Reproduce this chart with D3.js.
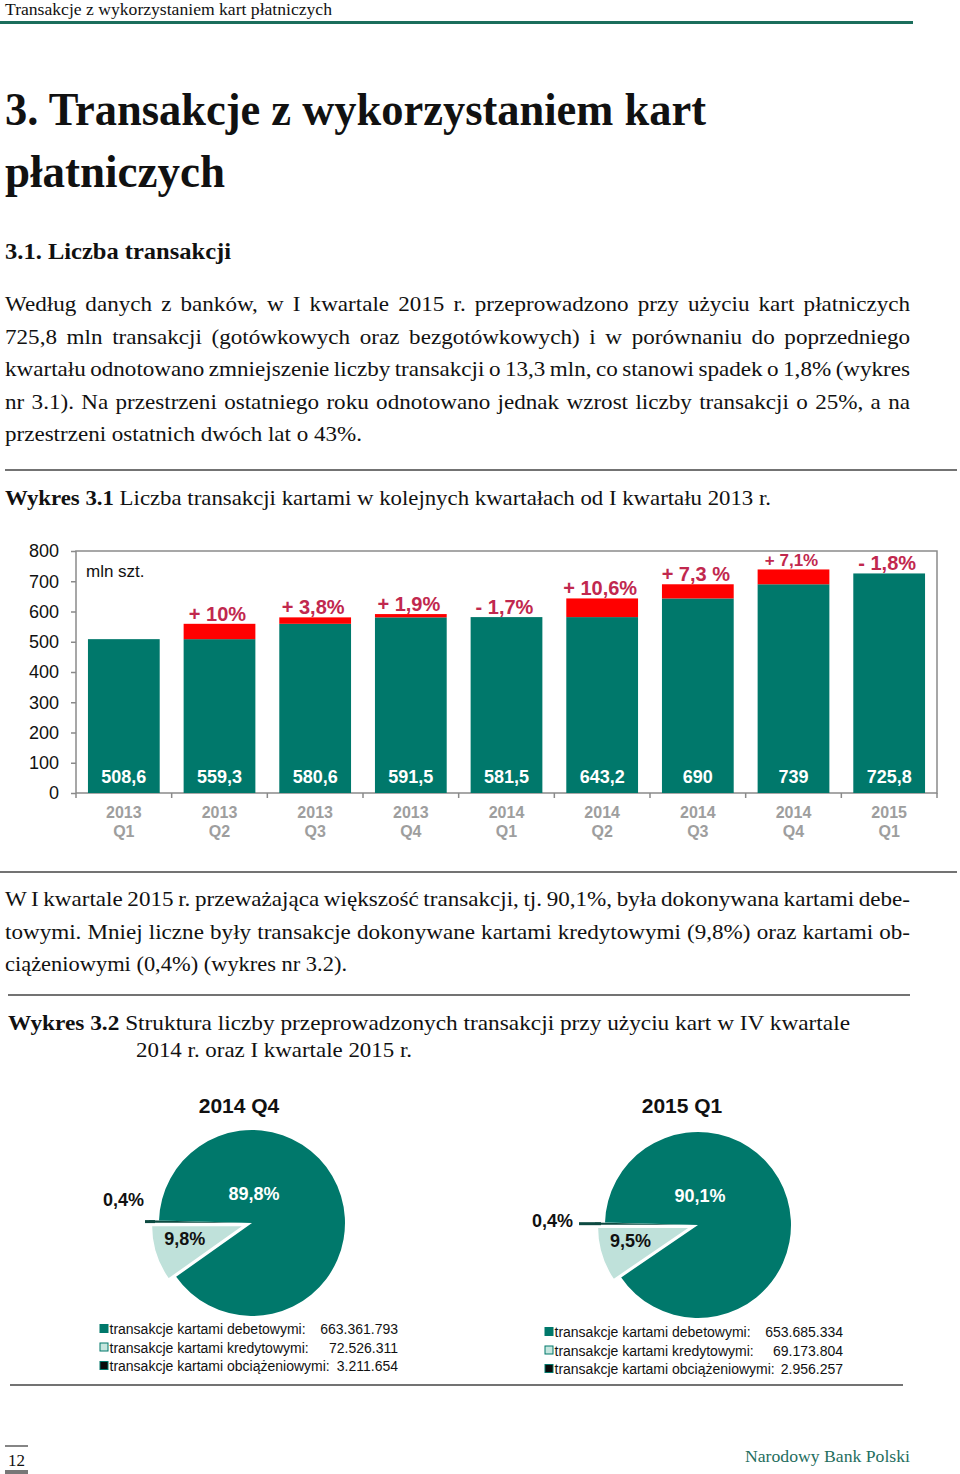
<!DOCTYPE html>
<html><head><meta charset="utf-8">
<script src="https://cdn.jsdelivr.net/npm/d3@7"></script>
<style>body{margin:0;background:#fff}svg{display:block}</style>
</head><body><svg id="page" width="960" height="1474"></svg>
<script>
// ---------------- DATA ----------------
const quarterYears = ["2013","2013","2013","2013","2014","2014","2014","2014","2015"];
const quarterNames = ["Q1","Q2","Q3","Q4","Q1","Q2","Q3","Q4","Q1"];
const transactions = [508.6, 559.3, 580.6, 591.5, 581.5, 643.2, 690, 739, 725.8];
const changeLabels = ["", "+ 10%", "+ 3,8%", "+ 1,9%", "- 1,7%", "+ 10,6%", "+ 7,3 %", "+ 7,1%", "- 1,8%"];
const yTicks = [0, 100, 200, 300, 400, 500, 600, 700, 800];

const pieCategories = ["transakcje kartami debetowymi:", "transakcje kartami kredytowymi:", "transakcje kartami obciążeniowymi:"];
const pie2014Q4 = [663361793, 72526311, 3211654];
const pie2015Q1 = [653685334, 69173804, 2956257];
const pie2014Q4Pct = ["89,8%", "9,8%", "0,4%"];
const pie2015Q1Pct = ["90,1%", "9,5%", "0,4%"];

// ---------------- SETUP ----------------
const svg = d3.select("#page");
const SERIF = "'Liberation Serif', 'Times New Roman', serif";
const SANS = "'Liberation Sans', Arial, sans-serif";
const TEAL = "#00786b", RED = "#ff0000", PCT = "#c1284e";
const plFmt = d3.formatLocale({decimal: ",", thousands: ".", grouping: [3], currency: ["", ""]});
const numFmt = plFmt.format(",d");
const decFmt = v => (Math.round(v * 10) / 10).toString().replace(".", ",");

function textLine(parts, x, y, size, opts = {}) {
  const t = svg.append("text")
    .attr("font-family", opts.family || SERIF).attr("font-size", size)
    .attr("fill", opts.fill || "#111");
  parts.forEach(p => {
    const s = typeof p === "string" ? {t: p} : p;
    t.append("tspan").text(s.t).attr("font-weight", s.b ? "bold" : null);
  });
  if (opts.justify) {
    const hs = 1.1;
    t.attr("transform", `translate(${x},${y}) scale(${hs},1)`);
    const w = t.node().getComputedTextLength();
    const full = parts.map(p => typeof p === "string" ? p : p.t).join("");
    const spaces = (full.match(/ /g) || []).length;
    t.attr("word-spacing", (opts.width / hs - w) / spaces);
  } else {
    t.attr("x", x).attr("y", y);
    if (opts.width) t.attr("textLength", opts.width).attr("lengthAdjust", "spacingAndGlyphs");
  }
  return t;
}
function hline(x1, x2, y, color = "#444", w = 1.6) {
  svg.append("line").attr("x1", x1).attr("x2", x2).attr("y1", y).attr("y2", y)
    .attr("stroke", color).attr("stroke-width", w);
}

// ---------------- PAGE TEXT ----------------
textLine(["Transakcje z wykorzystaniem kart płatniczych"], 5, 15, 16, {width: 327});
hline(0, 913, 22.5, "#1b6e5c", 3);
textLine([{t: "3. Transakcje z wykorzystaniem kart", b: 1}], 5, 125, 46, {width: 701});
textLine([{t: "płatniczych", b: 1}], 5, 187, 46, {width: 220});
textLine([{t: "3.1. Liczba transakcji", b: 1}], 5, 259, 24, {width: 226});

const para1 = [
  "Według danych z banków, w I kwartale 2015 r. przeprowadzono przy użyciu kart płatniczych",
  "725,8 mln transakcji (gotówkowych oraz bezgotówkowych) i w porównaniu do poprzedniego",
  "kwartału odnotowano zmniejszenie liczby transakcji o 13,3 mln, co stanowi spadek o 1,8% (wykres",
  "nr 3.1). Na przestrzeni ostatniego roku odnotowano jednak wzrost liczby transakcji o 25%, a na",
  "przestrzeni ostatnich dwóch lat o 43%."
];
para1.forEach((l, i) => textLine([l], 5, 311 + i * 32.6, 21,
  i < para1.length - 1 ? {width: 905, justify: true} : {width: 357}));
hline(5, 957, 470);
textLine([{t: "Wykres 3.1", b: 1}, " Liczba transakcji kartami w kolejnych kwartałach od I kwartału 2013 r."], 5, 505, 21, {width: 766});

hline(0, 957, 872);
const para2 = [
  "W I kwartale 2015 r. przeważająca większość transakcji, tj. 90,1%, była dokonywana kartami debe-",
  "towymi. Mniej liczne były transakcje dokonywane kartami kredytowymi (9,8%) oraz kartami ob-",
  "ciążeniowymi (0,4%) (wykres nr 3.2)."
];
para2.forEach((l, i) => textLine([l], 5, 906 + i * 32.6, 21,
  i < para2.length - 1 ? {width: 905, justify: true} : {width: 342}));
hline(8, 910, 995);
textLine([{t: "Wykres 3.2", b: 1}, " Struktura liczby przeprowadzonych transakcji przy użyciu kart w  IV kwartale"], 8, 1030, 21, {width: 842});
textLine(["2014 r.  oraz I kwartale 2015 r."], 136, 1057, 21, {width: 276});
hline(10, 903, 1385);

// footer
hline(5, 28, 1446, "#333", 1.2);
textLine(["12"], 8, 1466, 16, {width: 17});
svg.append("rect").attr("x", 5).attr("y", 1470).attr("width", 23).attr("height", 4).attr("fill", "#777");
textLine(["Narodowy Bank Polski"], 745, 1462, 17, {width: 165, fill: "#1f6e5e"});

// ---------------- BAR CHART ----------------
const cats = quarterYears.map((y, i) => y + " " + quarterNames[i]);
const x = d3.scaleBand().domain(cats).range([76, 937]).paddingInner(0.25).paddingOuter(0.125);
const y = d3.scaleLinear().domain([0, 800]).range([793, 551]);
const chart = svg.append("g");

chart.append("rect").attr("x", x.range()[0]).attr("y", y(800))
  .attr("width", x.range()[1] - x.range()[0]).attr("height", y(0) - y(800))
  .attr("fill", "none").attr("stroke", "#8a8a8a").attr("stroke-width", 1.5);

const yAx = chart.append("g").attr("transform", `translate(${x.range()[0]},0)`)
  .call(d3.axisLeft(y).tickValues(yTicks).tickSize(5).tickPadding(12).tickFormat(d3.format("d")));
yAx.select(".domain").remove();
yAx.selectAll("line").attr("stroke", "#8a8a8a").attr("stroke-width", 1.5);
yAx.selectAll("text").attr("font-family", SANS).attr("font-size", 18).attr("fill", "#111");

chart.selectAll("line.bt").data(d3.range(cats.length + 1)).join("line")
  .attr("x1", k => x.range()[0] + k * x.step()).attr("x2", k => x.range()[0] + k * x.step())
  .attr("y1", y(0)).attr("y2", y(0) + 5).attr("stroke", "#8a8a8a").attr("stroke-width", 1.5);

const bars = transactions.map((v, i) => ({
  cat: cats[i], v, prev: i > 0 ? transactions[i - 1] : null, label: changeLabels[i], i
}));
chart.selectAll("rect.base").data(bars).join("rect")
  .attr("x", d => x(d.cat)).attr("width", x.bandwidth())
  .attr("y", d => y(d.prev !== null && d.prev < d.v ? d.prev : d.v))
  .attr("height", d => y(0) - y(d.prev !== null && d.prev < d.v ? d.prev : d.v))
  .attr("fill", TEAL);
chart.selectAll("rect.inc").data(bars.filter(d => d.prev !== null && d.v > d.prev)).join("rect")
  .attr("x", d => x(d.cat)).attr("width", x.bandwidth())
  .attr("y", d => y(d.v)).attr("height", d => y(d.prev) - y(d.v))
  .attr("fill", RED);
chart.selectAll("text.chg").data(bars.filter(d => d.label)).join("text")
  .attr("x", d => x(d.cat) + x.bandwidth() / 2 - 2).attr("y", d => y(d.v) - 3)
  .attr("text-anchor", "middle").attr("font-family", SANS).attr("font-weight", "bold")
  .attr("font-size", d => (y(d.v) - y(800)) < 20 ? 17 : 20).attr("fill", PCT)
  .text(d => d.label);
chart.selectAll("text.val").data(bars).join("text")
  .attr("x", d => x(d.cat) + x.bandwidth() / 2).attr("y", 783)
  .attr("text-anchor", "middle").attr("font-family", SANS).attr("font-weight", "bold")
  .attr("font-size", 18).attr("fill", "#fff").text(d => decFmt(d.v));
const catG = chart.selectAll("text.cat").data(bars).join("text")
  .attr("text-anchor", "middle").attr("font-family", SANS).attr("font-weight", "bold")
  .attr("font-size", 16).attr("fill", "#9e9e9e");
catG.append("tspan").attr("x", d => x(d.cat) + x.bandwidth() / 2).attr("y", 818).text(d => quarterYears[d.i]);
catG.append("tspan").attr("x", d => x(d.cat) + x.bandwidth() / 2).attr("y", 837).text(d => quarterNames[d.i]);
chart.append("text").attr("x", 86).attr("y", 577).attr("font-family", SANS).attr("font-size", 17)
  .attr("fill", "#111").text("mln szt.");

// ---------------- PIES ----------------
const pies = [
  {title: "2014 Q4", values: pie2014Q4, pct: pie2014Q4Pct, cx: 252, cy: 1223, tx: 239,
   leader: 4, gap: 1, obcDy: -16, legX: 100, numX: 398, legY: 1334},
  {title: "2015 Q1", values: pie2015Q1, pct: pie2015Q1Pct, cx: 698, cy: 1225, tx: 682,
   leader: 16, gap: 6, obcDy: 3, legX: 545, numX: 843, legY: 1337}
];
const R = 93;
const sliceFill = [TEAL, "#bfe1da", "#0d4a41"];
const legendFill = [TEAL, "#c5e6df", "#0b0b0b"];

pies.forEach(p => {
  const total = d3.sum(p.values);
  const order = [1, 2, 0];
  const start = 1.5 * Math.PI - 2 * Math.PI * p.values[1] / total;
  const arcs = d3.pie().sort(null).value(k => p.values[k])
    .startAngle(start).endAngle(start + 2 * Math.PI)(order);
  const arc = d3.arc().innerRadius(0).outerRadius(R);
  const explode = [0, 8, 10];
  const g = svg.append("g").attr("transform", `translate(${p.cx},${p.cy})`);
  g.selectAll("path").data(arcs).join("path")
    .attr("d", arc)
    .attr("transform", a => {
      const m = (a.startAngle + a.endAngle) / 2, e = explode[a.data];
      return `translate(${Math.sin(m) * e},${-Math.cos(m) * e})`;
    })
    .attr("fill", a => sliceFill[a.data])
    .attr("stroke", a => a.data === 1 ? "#fff" : "none").attr("stroke-width", 1.5);

  const ang = a => (a.startAngle + a.endAngle) / 2;
  const aCre = arcs.find(a => a.data === 1), aObc = arcs.find(a => a.data === 2);
  g.append("text").attr("x", 2).attr("y", -23).attr("text-anchor", "middle")
    .attr("font-family", SANS).attr("font-weight", "bold").attr("font-size", 18).attr("fill", "#fff")
    .text(p.pct[0]);
  const mc = ang(aCre);
  g.append("text").attr("x", Math.sin(mc) * R * 0.76).attr("y", -Math.cos(mc) * R * 0.76 + 1)
    .attr("text-anchor", "middle").attr("font-family", SANS).attr("font-weight", "bold")
    .attr("font-size", 18).attr("fill", "#111").text(p.pct[1]);
  const mo = ang(aObc);
  const ox = Math.sin(mo) * (R + explode[2]), oy = -Math.cos(mo) * (R + explode[2]);
  g.append("line").attr("x1", ox + 6).attr("x2", ox - p.leader).attr("y1", oy).attr("y2", oy)
    .attr("stroke", sliceFill[2]).attr("stroke-width", 3);
  g.append("text").attr("x", ox - p.leader - p.gap).attr("y", oy + p.obcDy)
    .attr("text-anchor", "end").attr("font-family", SANS).attr("font-weight", "bold")
    .attr("font-size", 18).attr("fill", "#111").text(p.pct[2]);

  svg.append("text").attr("x", p.tx).attr("y", 1113).attr("text-anchor", "middle")
    .attr("font-family", SANS).attr("font-weight", "bold").attr("font-size", 21).attr("fill", "#111")
    .text(p.title);

  pieCategories.forEach((c, k) => {
    const ly = p.legY + k * 18.5;
    svg.append("rect").attr("x", p.legX).attr("y", ly - 9.5).attr("width", 8).attr("height", 8)
      .attr("fill", legendFill[k]).attr("stroke", TEAL).attr("stroke-width", 1);
    svg.append("text").attr("x", p.legX + 9.5).attr("y", ly).attr("font-family", SANS)
      .attr("font-size", 14).attr("fill", "#111").text(c);
    svg.append("text").attr("x", p.numX).attr("y", ly).attr("text-anchor", "end")
      .attr("font-family", SANS).attr("font-size", 14).attr("fill", "#111").text(numFmt(p.values[k]));
  });
});
</script></body></html>
